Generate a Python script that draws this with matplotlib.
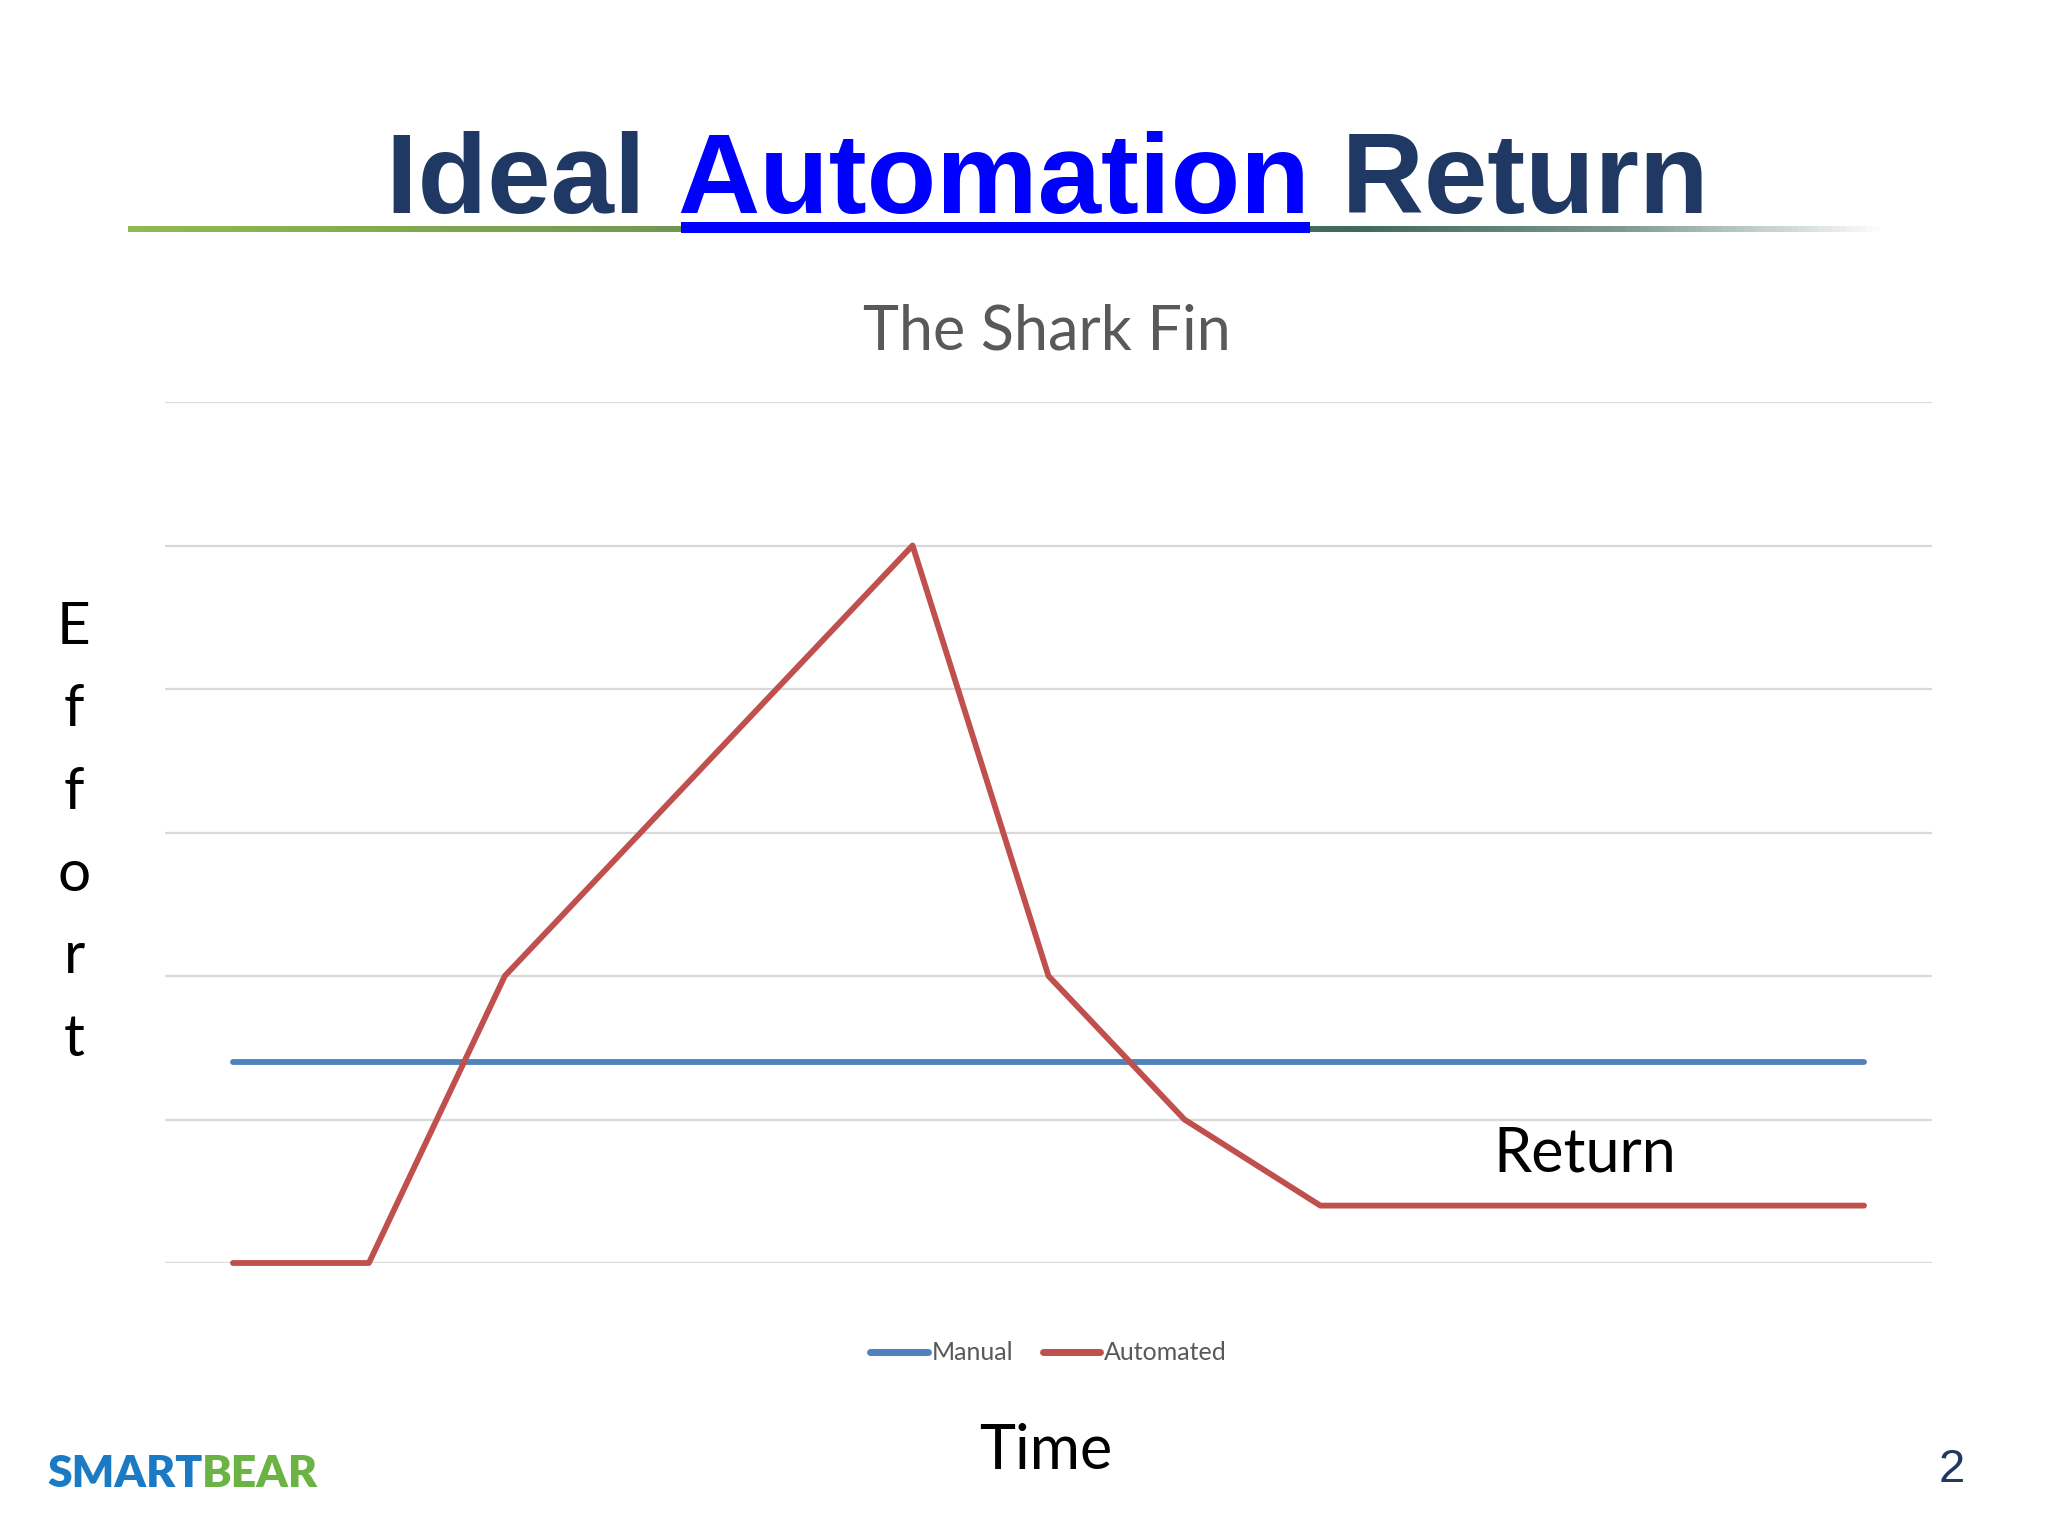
import numpy as np
import matplotlib.pyplot as plt
from matplotlib.colors import LinearSegmentedColormap

# chart data
periods = list(range(13))
manual = [1.4] * 13
automated = [0, 0, 2, 3, 4, 5, 2, 1, 0.4, 0.4, 0.4, 0.4, 0.4]
series_names = ['Manual', 'Automated']

W, H = 2048, 1536
fig = plt.figure(figsize=(W / 100, H / 100), dpi=100)
fig.patch.set_facecolor('white')


def fx(px):
    return px / W


def fy(py):
    return 1 - py / H


body_font = ['Lato', 'DejaVu Sans']
navy = '#1F3864'

# main chart area
ax = fig.add_axes([fx(165), fy(1263), fx(1932 - 165), (1263 - 402) / H])
ax.plot(periods, manual, color='#4F81BD', lw=4.2, label=series_names[0],
        solid_capstyle='round', clip_on=False)
ax.plot(periods, automated, color='#C0504D', lw=4.2, label=series_names[1],
        solid_capstyle='round', clip_on=False)
ax.set_xlim(-0.5, 12.5)
ax.set_ylim(0, 6)
ax.set_yticks(np.arange(0, 7, 1))
ax.yaxis.grid(True, color='#D9D9D9', lw=1.6)
ax.set_axisbelow(True)
ax.tick_params(left=False, bottom=False, labelleft=False, labelbottom=False)
for s in ax.spines.values():
    s.set_visible(False)

leg = ax.legend(loc='center', bbox_to_anchor=(0.5, -0.1045), ncol=2, frameon=False,
                handlelength=2.3, handletextpad=0.15, columnspacing=1.2,
                prop={'family': body_font, 'size': 18})
for t in leg.get_texts():
    t.set_color('#595959')
for h in leg.legend_handles:
    h.set_linewidth(5)

fig.text(fx(1047), fy(350), 'The Shark Fin', ha='center', va='baseline',
         fontsize=44, color='#595959', family=body_font)

# vertical axis label, one letter per line
for k, ch in enumerate('Effort'):
    fig.text(fx(74), fy(644 + 82.3 * k), ch, ha='center', va='baseline', fontsize=42,
             color='black', family=body_font)
fig.text(fx(1046), fy(1469), 'Time', ha='center', va='baseline', fontsize=44,
         color='black', family=body_font)
fig.text(fx(1493), fy(1172), 'Return', ha='left', va='baseline', fontsize=44,
         color='black', family=body_font)

# slide title with underlined middle word
fig.canvas.draw()
rend = fig.canvas.get_renderer()
parts = [('Ideal ', navy), ('Automation', '#0000FF'), (' Return', navy)]
tfont = dict(fontsize=82, fontweight='bold', family=['Liberation Sans', 'DejaVu Sans'])
texts = []
for word, col in parts:
    t = fig.text(0, fy(213), word, ha='left', va='baseline', color=col, **tfont)
    texts.append(t)
widths = [t.get_window_extent(rend).width for t in texts]
x = 1047 - sum(widths) / 2
spans = []
for t, w in zip(texts, widths):
    t.set_x(fx(x))
    spans.append((x, x + w))
    x += w

# gradient rule under title
rule = fig.add_axes([fx(128), fy(232), fx(1887 - 128), 6 / H])
cmap = LinearSegmentedColormap.from_list('rule', [
    (0.0, '#93B954'), (0.25, '#7A9E50'), (0.5, '#55805A'),
    (0.7, '#3F6A5C'), (0.85, '#7E9A90'), (1.0, '#FFFFFF')])
rule.imshow(np.linspace(0, 1, 512)[None, :], aspect='auto', cmap=cmap, extent=(0, 1, 0, 1))
rule.axis('off')

# underline of "Automation"
a0, a1 = spans[1]
a0 += 4
ul = fig.add_axes([fx(a0), fy(233), fx(a1 - a0), 11 / H])
ul.set_facecolor('#0000FF')
ul.set_xticks([])
ul.set_yticks([])
for s in ul.spines.values():
    s.set_visible(False)

# footer
logo_font = dict(fontsize=32, fontweight='heavy', family=['Lato', 'DejaVu Sans'])
t1 = fig.text(fx(47), fy(1487), 'SMART', ha='left', va='baseline', color='#1A7BC4', **logo_font)
w1 = t1.get_window_extent(rend).width
fig.text(fx(47 + w1), fy(1487), 'BEAR', ha='left', va='baseline', color='#6AB344', **logo_font)
fig.text(fx(1952), fy(1482), '2', ha='center', va='baseline', fontsize=34, color=navy,
         family=['Liberation Sans', 'DejaVu Sans'])

fig.savefig('out.png', dpi=100, facecolor='white')
